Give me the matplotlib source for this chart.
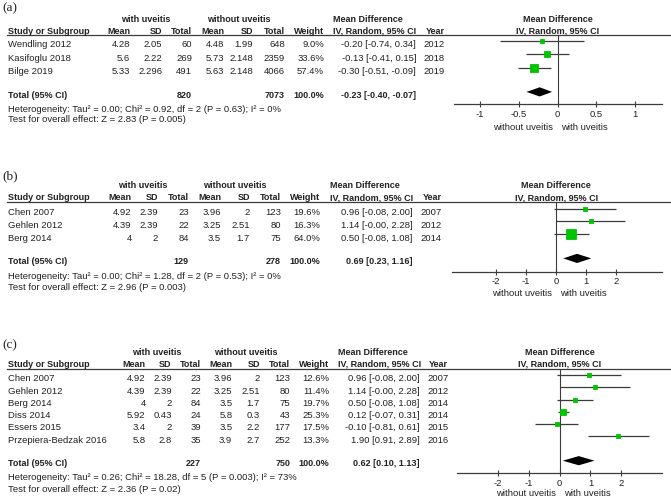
import matplotlib
matplotlib.use('Agg')
import matplotlib.pyplot as plt
from matplotlib.lines import Line2D

plt.rcParams['font.family'] = ['Liberation Sans', 'DejaVu Sans']
plt.rcParams['axes.unicode_minus'] = False

W, H = 671, 498
TXT = '#222222'
GREEN = '#00c400'
LINE = '#3c3c3c'
FS = 6.8      # normal text
FSB = 6.5     # bold text

# ---------------- data: panel (a)
a_study = ['Wendling 2012', 'Kasifoglu 2018', 'Bilge 2019']
a_mean1 = [4.28, 5.6, 5.33]
a_sd1 = [2.05, 2.22, 2.296]
a_n1 = [60, 269, 491]
a_mean2 = [4.48, 5.73, 5.63]
a_sd2 = [1.99, 2.148, 2.148]
a_n2 = [648, 2359, 4066]
a_weight = [9.0, 33.6, 57.4]
a_md = [-0.20, -0.13, -0.30]
a_lo = [-0.74, -0.41, -0.51]
a_hi = [0.34, 0.15, -0.09]
a_year = [2012, 2018, 2019]
a_total = [820, 7073, -0.23, -0.40, -0.07]      # n1, n2, md, lo, hi
a_het = [0.00, 0.92, 2, 0.63, 0]                 # tau2, chi2, df, p, I2
a_test = [2.83, 0.005]                           # Z, p
a_ticks = [-1, -0.5, 0, 0.5, 1]

# ---------------- data: panel (b)
b_study = ['Chen 2007', 'Gehlen 2012', 'Berg 2014']
b_mean1 = [4.92, 4.39, 4]
b_sd1 = [2.39, 2.39, 2]
b_n1 = [23, 22, 84]
b_mean2 = [3.96, 3.25, 3.5]
b_sd2 = [2, 2.51, 1.7]
b_n2 = [123, 80, 75]
b_weight = [19.6, 16.3, 64.0]
b_md = [0.96, 1.14, 0.50]
b_lo = [-0.08, -0.0, -0.08]
b_hi = [2.00, 2.28, 1.08]
b_year = [2007, 2012, 2014]
b_total = [129, 278, 0.69, 0.23, 1.16]
b_het = [0.00, 1.28, 2, 0.53, 0]
b_test = [2.96, 0.003]
b_ticks = [-2, -1, 0, 1, 2]

# ---------------- data: panel (c)
c_study = ['Chen 2007', 'Gehlen 2012', 'Berg 2014', 'Diss 2014',
           'Essers 2015', 'Przepiera-Bedzak 2016']
c_mean1 = [4.92, 4.39, 4, 5.92, 3.4, 5.8]
c_sd1 = [2.39, 2.39, 2, 0.43, 2, 2.8]
c_n1 = [23, 22, 84, 24, 39, 35]
c_mean2 = [3.96, 3.25, 3.5, 5.8, 3.5, 3.9]
c_sd2 = [2, 2.51, 1.7, 0.3, 2.2, 2.7]
c_n2 = [123, 80, 75, 43, 177, 252]
c_weight = [12.6, 11.4, 19.7, 25.3, 17.5, 13.3]
c_md = [0.96, 1.14, 0.50, 0.12, -0.10, 1.90]
c_lo = [-0.08, -0.0, -0.08, -0.07, -0.81, 0.91]
c_hi = [2.00, 2.28, 1.08, 0.31, 0.61, 2.89]
c_year = [2007, 2012, 2014, 2014, 2015, 2016]
c_total = [227, 750, 0.62, 0.10, 1.13]
c_het = [0.26, 18.28, 5, 0.003, 73]
c_test = [2.36, 0.02]
c_ticks = [-2, -1, 0, 1, 2]

# ---------------- layout (pixels, measured from top-left)
lay_a = dict(letter='(a)', letter_y=11.5, grp_y=21.7, col_y=33.7, line_y=35.5,
             row0=47.3, step=13.4, tot_y=97.5, het_y=111.7, test_y=122.3,
             with_x=145.5, without_x=239,
             cols=[130, 162, 192, 224, 253, 285, 324],
             md_x=333, ci_x=416, year_x=445,
             zero=557.5, unit=77.5, x0=454, x1=662, axis_y=104.3,
             tick_y=117.5, dir_y=129.5)
lay_b = dict(letter='(b)', letter_y=179, grp_y=188.3, col_y=200.3, line_y=202,
             row0=215, step=12.8, tot_y=264, het_y=279.3, test_y=290,
             with_x=143, without_x=235,
             cols=[131.7, 158.3, 189, 221, 250, 280.7, 320],
             md_x=330, ci_x=412.7, year_x=441.7,
             zero=556.3, unit=30.1, x0=451.7, x1=661.7, axis_y=271.7,
             tick_y=283.3, dir_y=296)
lay_c = dict(letter='(c)', letter_y=348, grp_y=355, col_y=366.7, line_y=369,
             row0=381.3, step=12.25, tot_y=466.3, het_y=480.3, test_y=492.3,
             with_x=157, without_x=246,
             cols=[145.7, 171.7, 201, 232.3, 260, 290, 329.3],
             md_x=338, ci_x=419.3, year_x=448.3,
             zero=559.7, unit=30.75, x0=456.7, x1=662.3, axis_y=473.3,
             tick_y=486.7, dir_y=496)

fig = plt.figure(figsize=(W / 100, H / 100), dpi=100)


def put(px, py, s, ha='left', bold=False, size=None, **kw):
    if size is None:
        size = FSB if bold else FS
    fig.text(px / W, 1 - py / H, s, ha=ha, va='baseline', fontsize=size,
             fontweight='bold' if bold else 'normal', color=TXT, **kw)


def ci_text(md, lo, hi):
    return f'{md:.2f} [{lo:.2f}, {hi:.2f}]'


def draw_panel(study, mean1, sd1, n1, mean2, sd2, n2, weight, md, lo, hi,
               year, total, het, test, ticks, L):
    put(2, L['letter_y'], L['letter'], size=9.5, family='Liberation Serif')

    # group headers
    put(L['with_x'], L['grp_y'], 'with uveitis', ha='center', bold=True)
    put(L['without_x'], L['grp_y'], 'without uveitis', ha='center', bold=True)
    put(L['md_x'], L['grp_y'], 'Mean Difference', bold=True)
    put(L['zero'], L['grp_y'], 'Mean Difference', ha='center', bold=True)

    # column headers
    c = L['cols']
    put(8, L['col_y'], 'Study or Subgroup', bold=True)
    for x, h in zip(c, ['Mean', 'SD', 'Total', 'Mean', 'SD', 'Total', 'Weight']):
        put(x, L['col_y'], h, ha='right', bold=True)
    put(L['md_x'], L['col_y'], 'IV, Random, 95% CI', bold=True)
    put(L['year_x'], L['col_y'], 'Year', ha='right', bold=True)
    put(L['zero'], L['col_y'], 'IV, Random, 95% CI', ha='center', bold=True)
    fig.add_artist(Line2D([7 / W, 1], [1 - L['line_y'] / H] * 2,
                          color=LINE, lw=0.9))

    # study rows
    for i, s in enumerate(study):
        y = L['row0'] + i * L['step']
        put(8, y, s)
        vals = [f'{mean1[i]:g}', f'{sd1[i]:g}', f'{n1[i]}',
                f'{mean2[i]:g}', f'{sd2[i]:g}', f'{n2[i]}', f'{weight[i]:.1f}%']
        for x, v in zip(c, vals):
            put(x, y, v, ha='right')
        put(L['ci_x'], y, ci_text(md[i], lo[i], hi[i]), ha='right')
        put(L['year_x'], y, str(year[i]), ha='right')

    # total row
    put(8, L['tot_y'], 'Total (95% CI)', bold=True)
    put(c[2], L['tot_y'], str(total[0]), ha='right', bold=True)
    put(c[5], L['tot_y'], str(total[1]), ha='right', bold=True)
    put(c[6], L['tot_y'], '100.0%', ha='right', bold=True)
    put(L['ci_x'], L['tot_y'], ci_text(*total[2:]), ha='right', bold=True)
    put(8, L['het_y'], f'Heterogeneity: Tau\u00b2 = {het[0]:.2f}; Chi\u00b2 = {het[1]:.2f}, '
                       f'df = {het[2]} (P = {het[3]:g}); I\u00b2 = {het[4]}%')
    put(8, L['test_y'], f'Test for overall effect: Z = {test[0]:.2f} (P = {test[1]:g})')

    # forest plot
    zero, unit = L['zero'], L['unit']
    ax = fig.add_axes([L['x0'] / W, 1 - L['axis_y'] / H,
                       (L['x1'] - L['x0']) / W, (L['axis_y'] - L['line_y']) / H])
    ax.set_xlim((L['x0'] - zero) / unit, (L['x1'] - zero) / unit)
    ax.set_ylim(L['axis_y'], L['line_y'])
    ax.patch.set_alpha(0)
    for sp in ['top', 'left', 'right']:
        ax.spines[sp].set_visible(False)
    ax.spines['bottom'].set_color(LINE)
    ax.spines['bottom'].set_linewidth(0.9)
    ax.set_yticks([])
    ax.set_xticks(ticks)
    ax.set_xticklabels([f'{t:g}' for t in ticks])
    ax.tick_params(axis='x', direction='inout', length=4.3, width=0.8,
                   pad=2, labelsize=FS, color=LINE, labelcolor=TXT)
    ax.axvline(0, color=LINE, lw=0.8)

    for i in range(len(study)):
        y = L['row0'] + i * L['step'] - 6.3
        ax.hlines(y, lo[i], hi[i], color=LINE, lw=0.9, zorder=2)
        side = 2.8 + 0.12 * weight[i]          # square side in pixels
        ax.plot(md[i], y, 's', ms=(side - 0.8) * 0.72, color=GREEN,
                mec=GREEN, mew=0.6, zorder=3)

    dy = L['tot_y'] - 5.6
    tmd, tlo, thi = total[2:]
    ax.fill([tlo, tmd, thi, tmd], [dy, dy - 4.6, dy, dy + 4.6], color='black', lw=0)

    off = L['dir_y'] - L['axis_y']
    ax.annotate('without uveitis', xy=(0, 0), xycoords=('data', 'axes fraction'),
                xytext=(-4, -off), textcoords='offset pixels', ha='right',
                va='baseline', fontsize=FS, color=TXT)
    ax.annotate('with uveitis', xy=(0, 0), xycoords=('data', 'axes fraction'),
                xytext=(4, -off), textcoords='offset pixels', ha='left',
                va='baseline', fontsize=FS, color=TXT)


draw_panel(a_study, a_mean1, a_sd1, a_n1, a_mean2, a_sd2, a_n2, a_weight,
           a_md, a_lo, a_hi, a_year, a_total, a_het, a_test, a_ticks, lay_a)
draw_panel(b_study, b_mean1, b_sd1, b_n1, b_mean2, b_sd2, b_n2, b_weight,
           b_md, b_lo, b_hi, b_year, b_total, b_het, b_test, b_ticks, lay_b)
draw_panel(c_study, c_mean1, c_sd1, c_n1, c_mean2, c_sd2, c_n2, c_weight,
           c_md, c_lo, c_hi, c_year, c_total, c_het, c_test, c_ticks, lay_c)

fig.savefig('out.png', dpi=100)
